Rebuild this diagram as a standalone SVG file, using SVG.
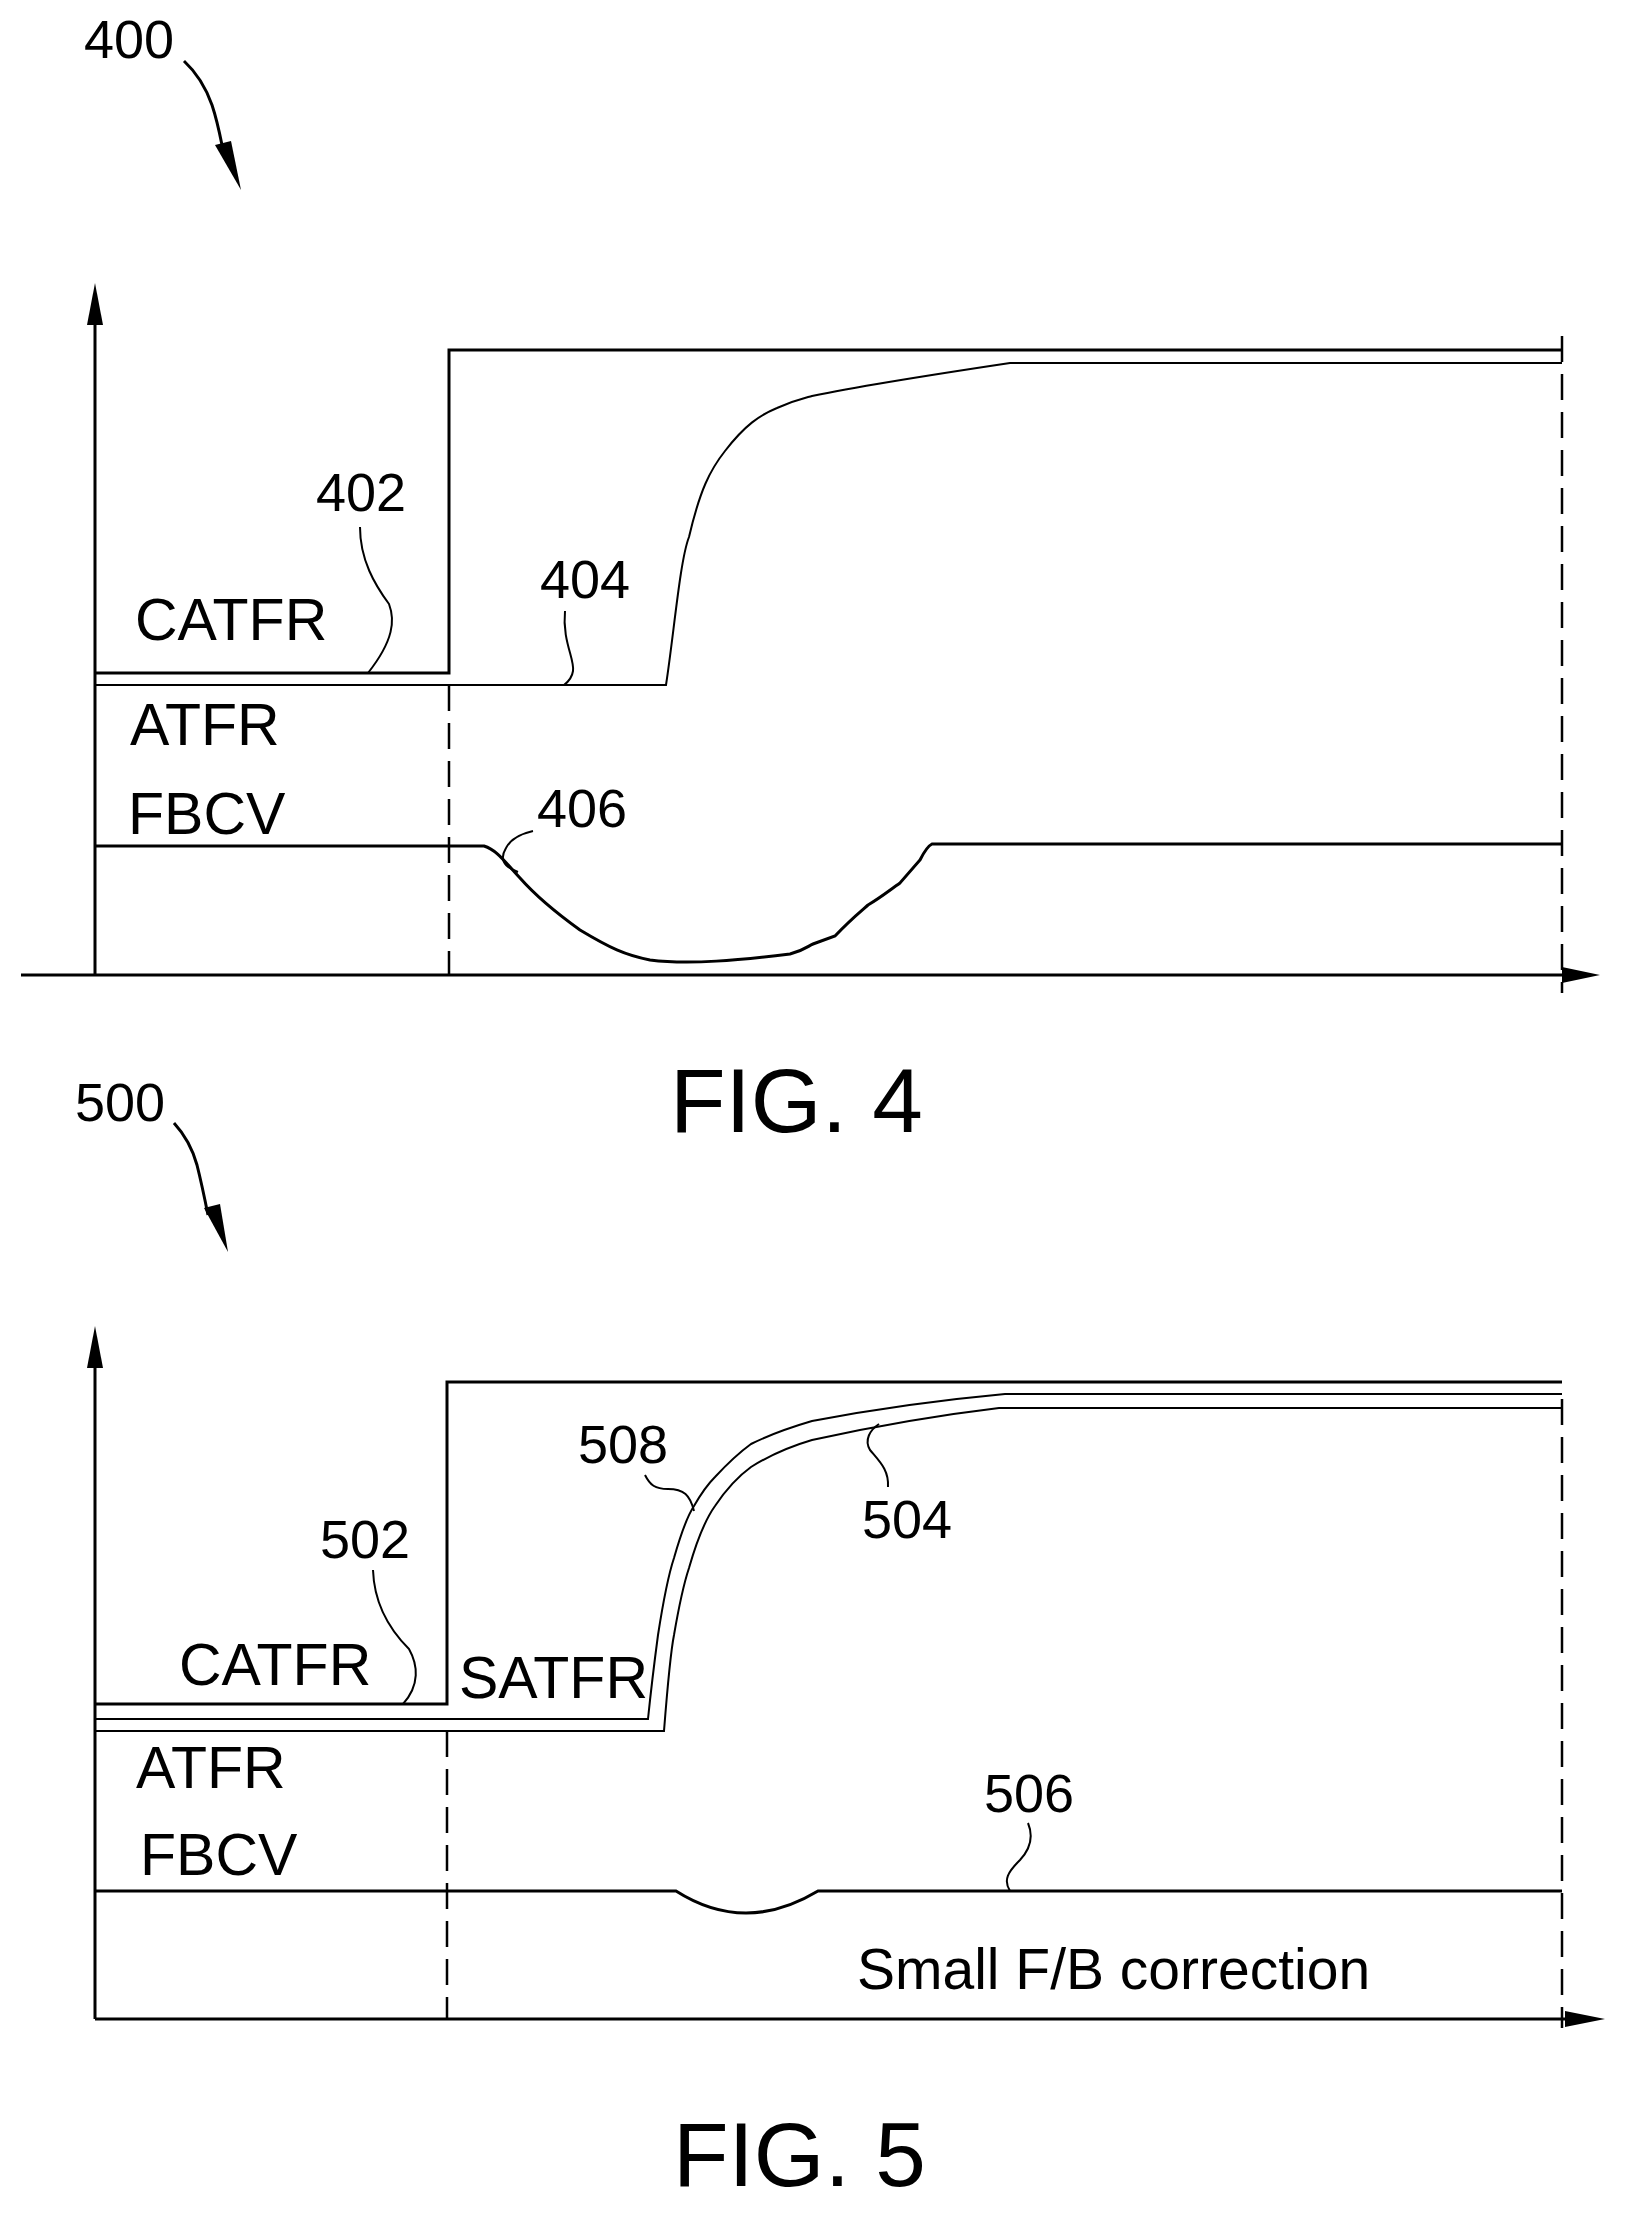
<svg xmlns="http://www.w3.org/2000/svg" width="1626" height="2216" viewBox="0 0 1626 2216">
<style>
.t{font-family:"Liberation Sans",Arial,sans-serif;fill:#000}
.n{font-size:54px}
.l{font-size:59px}
.f{font-size:91px}
.s{fill:none;stroke:#000;stroke-width:3}
.th{fill:none;stroke:#000;stroke-width:2}
.d{fill:none;stroke:#000;stroke-width:2.5;stroke-dasharray:26 12}
</style>
<rect width="1626" height="2216" fill="#fff"/>
<g id="fig4">
<g id="connectors4">
<path class="s" d="M95 975V322"/><path d="M95 283l-8 42h16z"/>
<path class="s" d="M21 975H1565"/><path d="M1600 975l-38-8v16z"/>
<path class="d" d="M449 685V975M1562 336V993"/>
<path class="s" d="M95 673H449V350H1562"/>
<path class="th" d="M95 685H666C674 633 680 560 689 537C700 490 710 470 725 451C745 425 760 415 777 408C795 400 805 398 812 396C860 386 930 375 1010 363H1562"/>
<path class="s" d="M95 846H484C497 850 505 862 520 878C535 895 555 912 580 930C610 948 625 955 650 960C690 965 740 960 790 954C805 950 808 946 813 944L835 936C850 920 860 912 868 905C880 898 890 890 900 883L920 860C925 850 928 846 932 844H1562"/>
<path class="th" d="M360 527C360 560 375 585 389 604C395 620 394 640 368 673"/>
<path class="th" d="M565 611C562 640 575 660 573 671C572 678 568 682 564 685"/>
<path class="th" d="M533 831C520 834 510 840 506 848C500 858 502 866 518 872"/>
<path class="s" d="M184 61C198 74 206 88 212 105C217 120 219 130 222 145"/><path d="M241 190l-26-45 16-4z"/>
</g>
<text class="t n" x="84" y="58">400</text>
<text class="t n" x="316" y="511">402</text>
<text class="t n" x="540" y="598">404</text>
<text class="t n" x="537" y="827">406</text>
<text class="t l" x="135" y="640">CATFR</text>
<text class="t l" x="130" y="745">ATFR</text>
<text class="t l" x="128" y="834">FBCV</text>
<text class="t f" x="670" y="1132">FIG. 4</text>
</g>
<g id="fig5">
<g id="connectors5">
<path class="s" d="M95 2019V1367"/><path d="M95 1326l-8 42h16z"/>
<path class="s" d="M95 2019H1565"/><path d="M1605 2019l-40-8v16z"/>
<path class="d" d="M447 1731V2019M1562 1399V2028"/>
<path class="s" d="M95 1704H447V1382H1562"/>
<path class="th" d="M95 1719H648C652 1680 656 1650 658 1635C665 1590 670 1570 674 1558C682 1530 688 1515 694 1506C702 1492 708 1484 715 1477C728 1463 740 1452 751 1444C775 1432 795 1426 812 1421C880 1408 940 1400 1005 1394H1562"/>
<path class="th" d="M95 1731H664C668 1680 671 1650 674 1635C680 1600 685 1580 689 1568C697 1540 705 1520 715 1506C727 1488 740 1475 751 1467C775 1452 795 1445 812 1440C880 1425 940 1415 999 1408H1562"/>
<path class="s" d="M95 1891H676Q745 1935 818 1891H1562"/>
<path class="th" d="M373 1570C374 1600 385 1625 409 1649C418 1665 420 1685 403 1704"/>
<path class="th" d="M645 1475C650 1485 655 1489 668 1489C684 1489 690 1495 694 1511"/>
<path class="th" d="M888 1487C889 1470 880 1462 870 1450C864 1440 870 1430 879 1424"/>
<path class="th" d="M1028 1823C1033 1835 1032 1847 1020 1860C1008 1872 1003 1880 1010 1891"/>
<path class="s" d="M174 1123C185 1135 192 1147 197 1165C202 1185 205 1200 208 1215"/><path d="M228 1252l-24-44 16-4z"/>
</g>
<text class="t n" x="75" y="1121">500</text>
<text class="t n" x="320" y="1558">502</text>
<text class="t n" x="578" y="1463">508</text>
<text class="t n" x="862" y="1538">504</text>
<text class="t n" x="984" y="1812">506</text>
<text class="t l" x="179" y="1685">CATFR</text>
<text class="t l" x="459" y="1698">SATFR</text>
<text class="t l" x="136" y="1788">ATFR</text>
<text class="t l" x="140" y="1875">FBCV</text>
<text class="t" style="font-size:57px" x="857" y="1989">Small F/B correction</text>
<text class="t f" x="673" y="2186">FIG. 5</text>
</g>
</svg>
